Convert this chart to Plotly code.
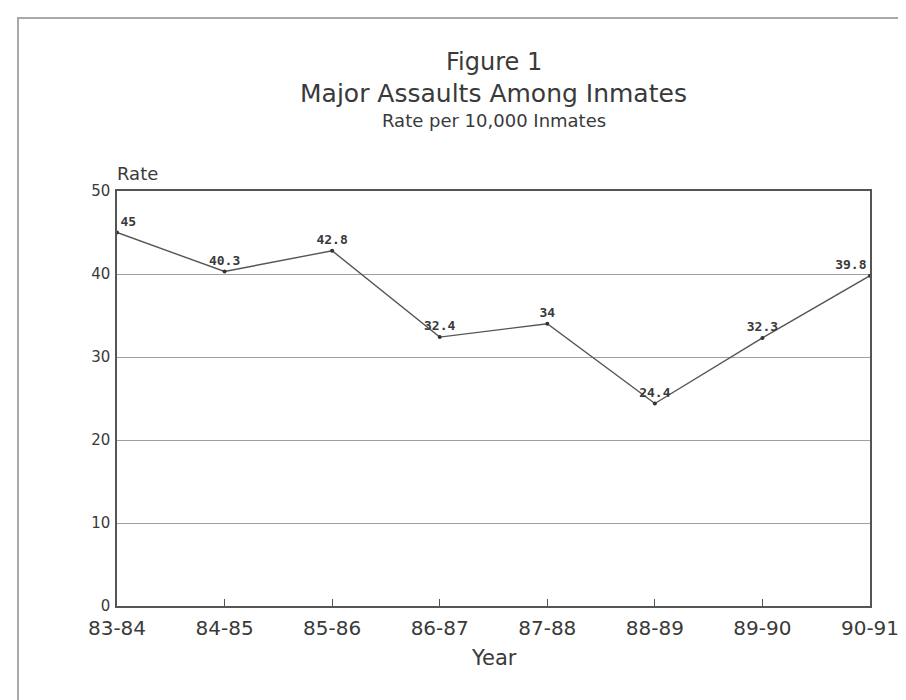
import plotly.graph_objects as go

years = ["83-84", "84-85", "85-86", "86-87", "87-88", "88-89", "89-90", "90-91"]
rates = [45, 40.3, 42.8, 32.4, 34, 24.4, 32.3, 39.8]
rate_labels = ["45", "40.3", "42.8", "32.4", "34", "24.4", "32.3", "39.8"]
y_ticks = [0, 10, 20, 30, 40, 50]

TXT = "#3a3a3a"
L, R, T, B = 109, 44, 183, 102
W, H = 906, 700
pw, ph = W - L - R, H - T - B


def px(x):
    return (x - L) / pw


def py(y):
    return (H - B - y) / ph


positions = ["top right"] + ["top center"] * (len(years) - 2) + ["top left"]

fig = go.Figure()
fig.add_trace(go.Scatter(
    x=list(range(len(years))), y=rates,
    mode="lines+markers+text",
    text=rate_labels, textposition=positions,
    textfont=dict(family="DejaVu Sans Mono", size=13, color=TXT, weight="bold"),
    line=dict(color="#555555", width=1.4),
    marker=dict(color="#333333", size=4),
    cliponaxis=False, showlegend=False,
))

fig.update_layout(
    width=W, height=H,
    margin=dict(l=L, r=R, t=T, b=B),
    paper_bgcolor="white", plot_bgcolor="white",
    font=dict(family="DejaVu Sans", color=TXT),
    xaxis=dict(
        range=[0, len(years) - 1], tickmode="array",
        tickvals=list(range(len(years))), ticktext=years,
        ticks="inside", ticklen=7, tickcolor="#555555", tickwidth=1,
        showgrid=False, zeroline=False,
        showline=True, linecolor="#555555", linewidth=1.5, mirror=True,
        tickfont=dict(size=20, color=TXT), ticklabelstandoff=3,
    ),
    yaxis=dict(
        range=[0, 50], tickvals=y_ticks,
        showgrid=True, gridcolor="#a0a0a0", gridwidth=1,
        zeroline=False, ticks="",
        showline=True, linecolor="#555555", linewidth=1.5, mirror=True,
        tickfont=dict(size=15, color=TXT), ticklabelstandoff=2,
    ),
    shapes=[dict(
        type="rect", xref="paper", yref="paper",
        x0=px(10), x1=px(912), y0=py(712), y1=py(10),
        line=dict(color="#a8a8a8", width=2), layer="below",
    )],
    annotations=[
        dict(text="Figure 1", x=0.5, y=py(54), xref="paper", yref="paper",
             showarrow=False, font=dict(size=24, color=TXT), yanchor="middle"),
        dict(text="Major Assaults Among Inmates", x=0.5, y=py(85), xref="paper", yref="paper",
             showarrow=False, font=dict(size=25, color=TXT), yanchor="middle"),
        dict(text="Rate per 10,000 Inmates", x=0.5, y=py(112), xref="paper", yref="paper",
             showarrow=False, font=dict(size=18, color=TXT), yanchor="middle"),
        dict(text="Rate", x=px(107), y=py(165), xref="paper", yref="paper",
             showarrow=False, font=dict(size=18, color=TXT), xanchor="left", yanchor="middle"),
        dict(text="Year", x=0.5, y=py(650), xref="paper", yref="paper",
             showarrow=False, font=dict(size=21, color=TXT), yanchor="middle"),
    ],
)

fig.write_html("out.html")
